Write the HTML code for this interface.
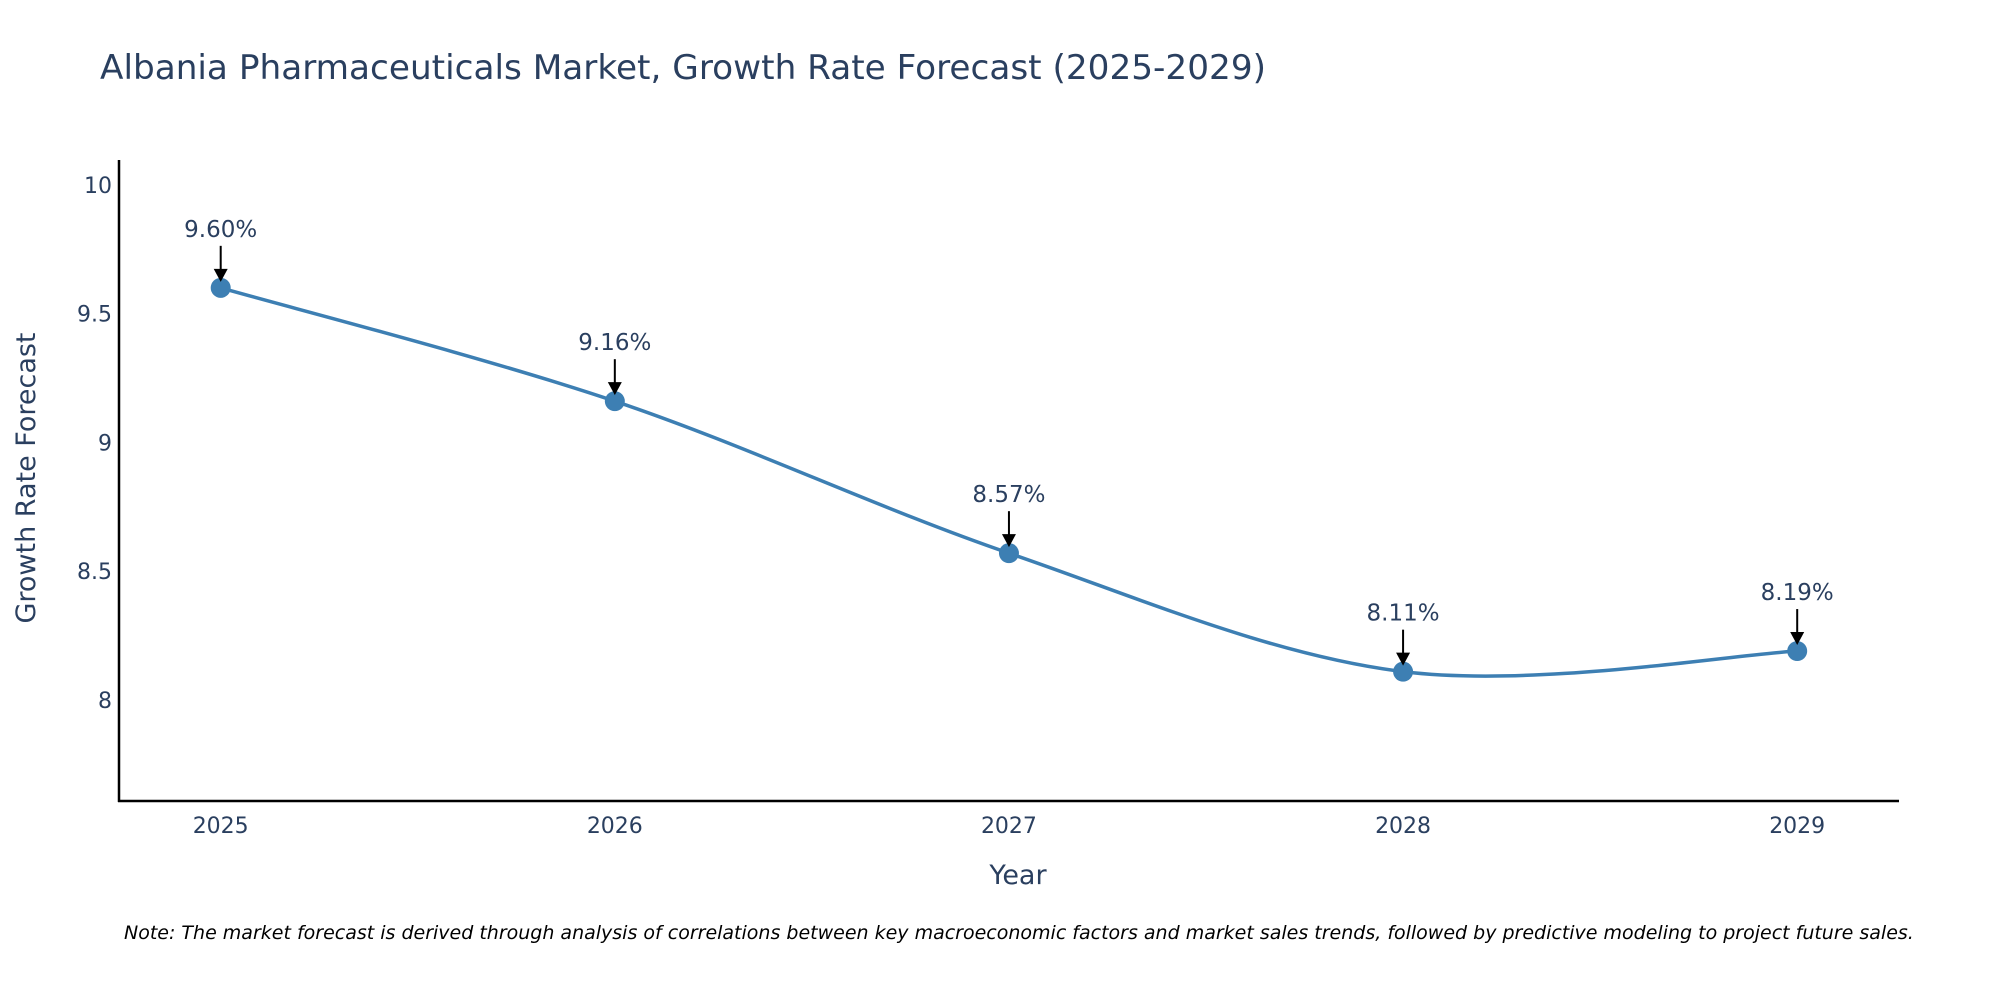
<!DOCTYPE html>
<html><head><meta charset="utf-8"><style>
html,body{margin:0;padding:0;background:#fff;}
svg{display:block;font-family:"DejaVu Sans","Liberation Sans",sans-serif;}
</style></head><body>
<svg id="chart" width="2000" height="1000">
<text x="100" y="79" font-size="34" fill="#2a3f5f" textLength="1166" lengthAdjust="spacingAndGlyphs">Albania Pharmaceuticals Market, Growth Rate Forecast (2025-2029)</text>
<g id="yticks"></g><g id="xticks"></g>
<line x1="119" y1="160" x2="119" y2="802" stroke="#000" stroke-width="2.5"/>
<line x1="118" y1="801" x2="1899" y2="801" stroke="#000" stroke-width="2.5"/>
<path id="series" fill="none" stroke="#3d7fb3" stroke-width="3.5"/>
<g id="marks"></g>
<text x="1018" y="884" font-size="27" fill="#2a3f5f" text-anchor="middle">Year</text>
<text transform="translate(35,478) rotate(-90)" font-size="27" fill="#2a3f5f" text-anchor="middle">Growth Rate Forecast</text>
<text x="124" y="939" font-size="19" font-style="italic" fill="#000">Note: The market forecast is derived through analysis of correlations between key macroeconomic factors and market sales trends, followed by predictive modeling to project future sales.</text>
</svg>
<script>
const years=[2025,2026,2027,2028,2029];
const values=[9.60,9.16,8.57,8.11,8.19];
const yTickVals=[8,8.5,9,9.5,10];
const yTickLabels=["8","8.5","9","9.5","10"];
const NS="http://www.w3.org/2000/svg";
function xS(v){return 220.7+(v-2025)*(1797.2-220.7)/4;}
function yS(v){return 700-(v-8)*257.6;}
function mk(tag,attrs,parent){const e=document.createElementNS(NS,tag);for(const k in attrs)e.setAttribute(k,attrs[k]);parent.appendChild(e);return e;}
const yt=document.getElementById('yticks');
yTickVals.forEach((v,i)=>{const t=mk('text',{x:112,y:yS(v)+8,'font-size':22,fill:'#2a3f5f','text-anchor':'end'},yt);


t.textContent=yTickLabels[i];});
const xt=document.getElementById('xticks');
years.forEach(y=>{const t=mk('text',{x:xS(y),y:833,'font-size':22,fill:'#2a3f5f','text-anchor':'middle'},xt);


t.textContent=String(y);});
const pts=years.map((y,i)=>[xS(y),yS(values[i])]);
let d='M'+pts[0][0]+','+pts[0][1];
for(let i=0;i<pts.length-1;i++){const p0=pts[Math.max(0,i-1)],p1=pts[i],p2=pts[i+1],p3=pts[Math.min(pts.length-1,i+2)];
const c1=[p1[0]+(p2[0]-p0[0])/6,p1[1]+(p2[1]-p0[1])/6],c2=[p2[0]-(p3[0]-p1[0])/6,p2[1]-(p3[1]-p1[1])/6];
d+=' C'+c1[0]+','+c1[1]+' '+c2[0]+','+c2[1]+' '+p2[0]+','+p2[1];}
document.getElementById('series').setAttribute('d',d);
const m=document.getElementById('marks');
pts.forEach((p,i)=>{
const c=mk('circle',{cx:p[0],cy:p[1],r:10,fill:'#3d7fb3'},m);


const l=mk('line',{x1:p[0],y1:p[1]-42,x2:p[0],y2:p[1]-16,stroke:'#000','stroke-width':2},m);


const h=mk('path',{d:`M${p[0]-7},${p[1]-19} L${p[0]+7},${p[1]-19} L${p[0]},${p[1]-6} Z`,fill:'#000'},m);


const t=mk('text',{x:p[0],y:p[1]-51,'font-size':23,fill:'#2a3f5f','text-anchor':'middle'},m);


t.textContent=values[i].toFixed(2)+'%';});
</script>
</body></html>
